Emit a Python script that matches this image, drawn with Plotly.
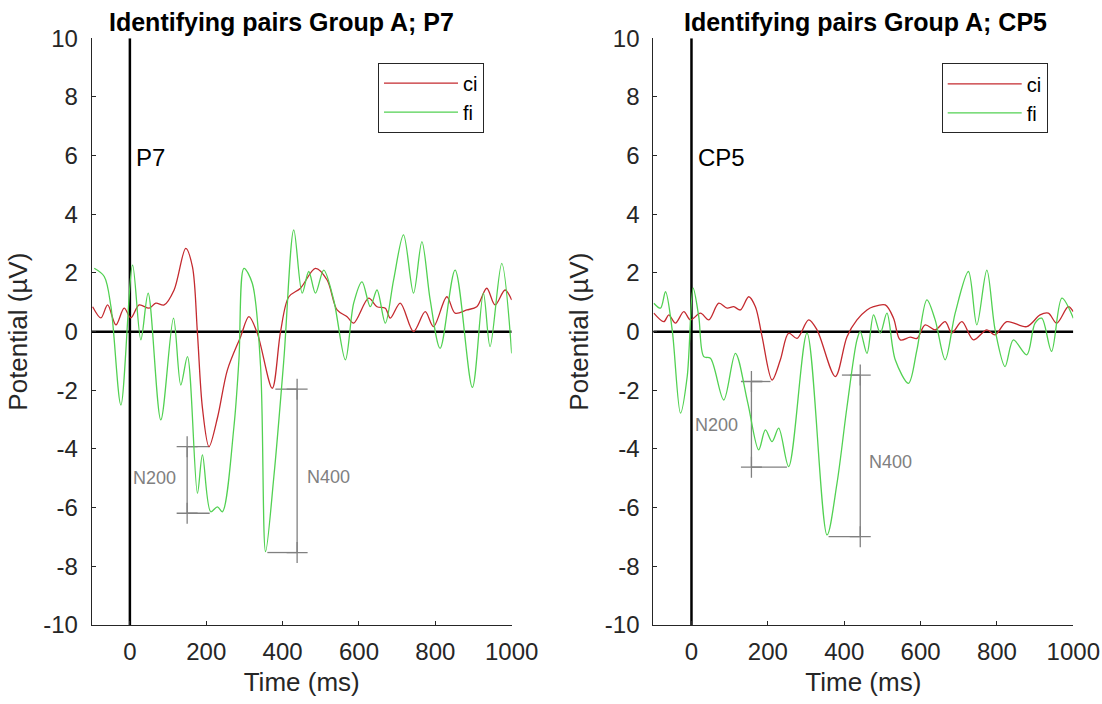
import plotly.graph_objects as go

# ---------------- data ----------------
# Left panel: electrode P7
P7_CI_T = [-97.5, -75.8, -58.3, -36.6, -14.9, 2.6, 24.3, 50.4, 67.9, 89.6, 115.8, 146.3, 163.8, 176.9,
           190, 207.2, 230, 255.3, 290, 311.7, 333.7, 372.9, 394.6, 416.3, 446.8, 486, 516.6, 542.7,
           568.9, 586.1, 625.3, 647.2, 669, 682, 708.1, 742.9, 773.5, 795.1, 830.2, 851.8, 882.4,
           908.5, 934.7, 956.4, 982.5, 1000]
P7_CI_V = [0.85, 0.47, 0.91, 0.23, 0.80, 0.47, 0.91, 0.80, 0.97, 0.91, 1.42, 2.84, 2.22, -0.05,
           -2.6, -3.92, -2.9, -1.31, -0.17, 0.51, -0.05, -1.93, 0.0, 1.19, 1.48, 2.16, 1.76, 0.74,
           0.51, 0.29, 1.14, 0.85, 0.80, 0.46, 0.97, 0.0, 0.68, 0.17, 1.19, 0.63, 0.74,
           0.85, 1.48, 0.91, 1.42, 1.08]

P7_FI_T = [-93.3, -67.2, -49.6, -23.5, 7.1, 28.7, 47.8, 81.0, 114.2, 133.3, 150.8, 176.9, 190,
           211.7, 229.2, 242.2, 272.5, 285.6, 298.7, 320.6, 342.3, 355.4, 377.1, 403.2, 429.3,
           451.3, 468.5, 486, 507.7, 533.8, 564.4, 586.1, 608, 629.7, 647.2, 669, 690.6, 716.7,
           742.9, 764.8, 786.5, 812.6, 851.8, 897, 925.8, 943.3, 973.9, 1000]
P7_FI_V = [2.16, 1.88, 0.85, -2.50, 2.27, -0.28, 1.31, -3.01, 0.46, -1.82, -0.85, -5.51, -4.20,
           -6.14, -5.97, -6.14, -3.24, -0.96, 2.16, 1.65, -1.19, -7.50, -4.94, -0.96, 3.47,
           1.31, 2.05, 1.31, 2.10, 1.08, -0.96, 0.97, 1.70, 0.85, 1.42, 0.29, 1.76, 3.30,
           1.31, 3.07, 1.08, -0.57, 2.10, -1.9, 1.31, -0.51, 2.33, -0.74]

# Right panel: electrode CP5
CP5_CI_T = [-98.6, -72.5, -59.4, -41.9, -20.1, -2.6, 23.5, 45.3, 71.4, 93.4, 110.6, 128.2, 149.9,
            167.4, 184.9, 211.1, 232.8, 254.5, 276.5, 306.8, 328.8, 376.7, 407.3, 433.4, 459.6,
            476.9, 507.5, 529.2, 546.7, 572.9, 590.4, 612.1, 638.2, 664.4, 681.9, 708.1, 738.4,
            773.5, 795.2, 825.8, 878.1, 912.9, 934.6, 956.6, 986.9, 1000]
CP5_CI_V = [0.63, 0.34, 0.57, 0.29, 0.68, 0.40, 0.63, 0.40, 0.97, 0.80, 0.85, 0.74, 1.19,
            0.85, -0.17, -1.65, -0.96, -0.05, -0.23, 0.40, 0.06, -1.53, -0.17, 0.40, 0.74,
            0.85, 0.91, 0.46, -0.28, -0.19, -0.23, 0.23, 0.06, 0.34, -0.05, 0.34, -0.28,
            0.06, -0.11, 0.34, 0.17, 0.57, 0.63, 0.29, 0.85, 0.68]

CP5_FI_T = [-98.6, -81.1, -68, -50.5, -28.8, -11.2, 4.4, 19.1, 32.2, 49.7, 84.5, 115.1, 147,
            176, 193.6, 211.1, 228.4, 254.5, 302.6, 355, 381.1, 407.3, 433.4, 442.1, 459.6,
            476.9, 494.4, 511.9, 533.6, 568.4, 590.4, 616.5, 638.2, 664.4, 690.6, 725.4, 747.3,
            773.5, 795.2, 821.3, 843, 878.1, 899.8, 917.3, 943, 970, 1000]
CP5_FI_V = [0.97, 0.80, 1.36, 0.06, -2.78, -1.53, 1.48, 0.51, -0.85, -0.91, -2.33, -0.74, -2.4,
            -4.03, -3.35, -3.75, -3.29, -4.60, -0.05, -6.93, -5.17, -2.56, -0.28, 0.0, -0.74,
            0.57, -0.05, 0.63, -0.96, -1.76, -0.62, 1.08, 0.40, -0.96, 0.63, 2.05, 0.23,
            2.10, 0.06, -1.19, -0.28, -0.79, 0.29, 0.46, -0.67, 1.14, 0.46]

# Component brackets: vertical x, top value, bottom value, x of top peak, x of bottom peak
P7_N200 = [150, -3.92, -6.19, 209, 209]
P7_N400 = [438, -1.96, -7.53, 381, 360]
CP5_N200 = [157, -1.70, -4.62, 207, 250]
CP5_N400 = [442, -1.48, -6.99, 394, 359]
COMPONENT_NAMES = ["N200", "N400"]
# label anchor positions (x in ms, y in µV)
P7_LABELS = [(127, -5.0), (459, -4.94)]
CP5_LABELS = [(128, -3.18), (459, -4.43)]

ZERO_X = [-100, 1000]
STIM_Y = [-10, 10]
X_TICKS = [0, 200, 400, 600, 800, 1000]
Y_TICKS = [-10, -8, -6, -4, -2, 0, 2, 4, 6, 8, 10]
Y_TICK_LABELS = ["-10", "-8", "-6", "-4", "-2", "0", "2", "4", "6", "8", "10"]
TITLES = ["Identifying pairs Group A; P7", "Identifying pairs Group A; CP5"]
ELECTRODES = ["P7", "CP5"]
SERIES = ["ci", "fi"]

# ---------------- styling ----------------
FONT = "Liberation Sans, Arial, Helvetica, sans-serif"
RED = "#c42a2f"
GREEN = "#52d152"
GRAY = "#808080"
AX = "#262626"

fig = go.Figure()

panels = [
    dict(xa="x", ya="y", leg="legend", ci=(P7_CI_T, P7_CI_V), fi=(P7_FI_T, P7_FI_V),
         brackets=[P7_N200, P7_N400], labels=P7_LABELS),
    dict(xa="x2", ya="y2", leg="legend2", ci=(CP5_CI_T, CP5_CI_V), fi=(CP5_FI_T, CP5_FI_V),
         brackets=[CP5_N200, CP5_N400], labels=CP5_LABELS),
]

annotations = []
for i, p in enumerate(panels):
    xa, ya = p["xa"], p["ya"]
    # zero lines
    fig.add_trace(go.Scatter(x=ZERO_X, y=[0, 0], mode="lines", line=dict(color="black", width=2.5),
                             xaxis=xa, yaxis=ya, showlegend=False, hoverinfo="skip"))
    fig.add_trace(go.Scatter(x=[0, 0], y=STIM_Y, mode="lines", line=dict(color="black", width=2.5),
                             xaxis=xa, yaxis=ya, showlegend=False, hoverinfo="skip"))
    # brackets
    for b, name, (lx, ly) in zip(p["brackets"], COMPONENT_NAMES, p["labels"]):
        xv, top, bot, xtp, xbp = b
        fig.add_trace(go.Scatter(x=[xv, xv], y=[top, bot], mode="lines+markers",
                                 line=dict(color=GRAY, width=1.3),
                                 marker=dict(symbol="cross-thin", size=15, line=dict(color=GRAY, width=1.3)),
                                 xaxis=xa, yaxis=ya, showlegend=False, hoverinfo="skip"))
        fig.add_trace(go.Scatter(x=[xv, xtp], y=[top, top], mode="lines", line=dict(color=GRAY, width=1.3),
                                 xaxis=xa, yaxis=ya, showlegend=False, hoverinfo="skip"))
        fig.add_trace(go.Scatter(x=[xv, xbp], y=[bot, bot], mode="lines", line=dict(color=GRAY, width=1.3),
                                 xaxis=xa, yaxis=ya, showlegend=False, hoverinfo="skip"))
        anchor = "right" if lx < xv else "left"
        annotations.append(dict(x=lx, y=ly, xref=xa, yref=ya, text=name, showarrow=False,
                                xanchor=anchor, yanchor="middle",
                                font=dict(family=FONT, size=18, color=GRAY)))
    # data
    for s, col in zip(SERIES, [RED, GREEN]):
        t, v = p[s]
        fig.add_trace(go.Scatter(x=t, y=v, mode="lines", name=s, legend=p["leg"],
                                 line=dict(color=col, width=1.3, shape="spline", smoothing=0.9),
                                 xaxis=xa, yaxis=ya))
    # electrode label
    annotations.append(dict(x=12, y=5.94, xref=xa, yref=ya, text=ELECTRODES[i], showarrow=False,
                            xanchor="left", yanchor="middle",
                            font=dict(family=FONT, size=24, color="black")))

# titles
annotations.append(dict(x=281.7 / 1102, y=1 - 21.7 / 704, xref="paper", yref="paper", text="<b>" + TITLES[0] + "</b>",
                        showarrow=False, xanchor="center", yanchor="middle",
                        font=dict(family=FONT, size=25, color="black")))
annotations.append(dict(x=865 / 1102, y=1 - 21.7 / 704, xref="paper", yref="paper", text="<b>" + TITLES[1] + "</b>",
                        showarrow=False, xanchor="center", yanchor="middle",
                        font=dict(family=FONT, size=25, color="black")))

def xaxis(domain, anchor):
    return dict(domain=domain, anchor=anchor, range=[-100, 1000], tickvals=X_TICKS,
                ticktext=[str(v) for v in X_TICKS], ticks="inside", ticklen=4, tickcolor=AX,
                showline=True, linecolor=AX, linewidth=1, mirror=False, showgrid=False, zeroline=False,
                tickfont=dict(family=FONT, size=24, color=AX), ticklabelstandoff=5, automargin=False,
                title=dict(text="Time (ms)", font=dict(family=FONT, size=26, color=AX), standoff=9))

def yaxis(domain, anchor):
    return dict(domain=domain, anchor=anchor, range=[-10, 10], tickvals=Y_TICKS, ticktext=Y_TICK_LABELS,
                ticks="inside", ticklen=4, tickcolor=AX,
                showline=True, linecolor=AX, linewidth=1, mirror=False, showgrid=False, zeroline=False,
                tickfont=dict(family=FONT, size=24, color=AX), ticklabelstandoff=8, automargin=False,
                title=dict(text="Potential (µV)", font=dict(family=FONT, size=26, color=AX), standoff=8))

YD = [1 - 625 / 704, 1 - 38.3 / 704]
legend_common = dict(bgcolor="white", bordercolor="#262626", borderwidth=1,
                     font=dict(family=FONT, size=20, color="black"), xanchor="left", yanchor="top",
                     itemwidth=74, tracegroupgap=0)

fig.update_layout(
    width=1102, height=704, margin=dict(l=0, r=0, t=0, b=0, autoexpand=False),
    paper_bgcolor="white", plot_bgcolor="white",
    font=dict(family=FONT),
    xaxis=xaxis([91.7 / 1102, 511.7 / 1102], "y"),
    yaxis=yaxis(YD, "x"),
    xaxis2=xaxis([653.3 / 1102, 1073.3 / 1102], "y2"),
    yaxis2=yaxis(YD, "x2"),
    legend=dict(x=378 / 1102, y=1 - 62.7 / 704, **legend_common),
    legend2=dict(x=941.7 / 1102, y=1 - 63.3 / 704, **legend_common),
    annotations=annotations,
    showlegend=True,
)

fig.write_html("out.html")
